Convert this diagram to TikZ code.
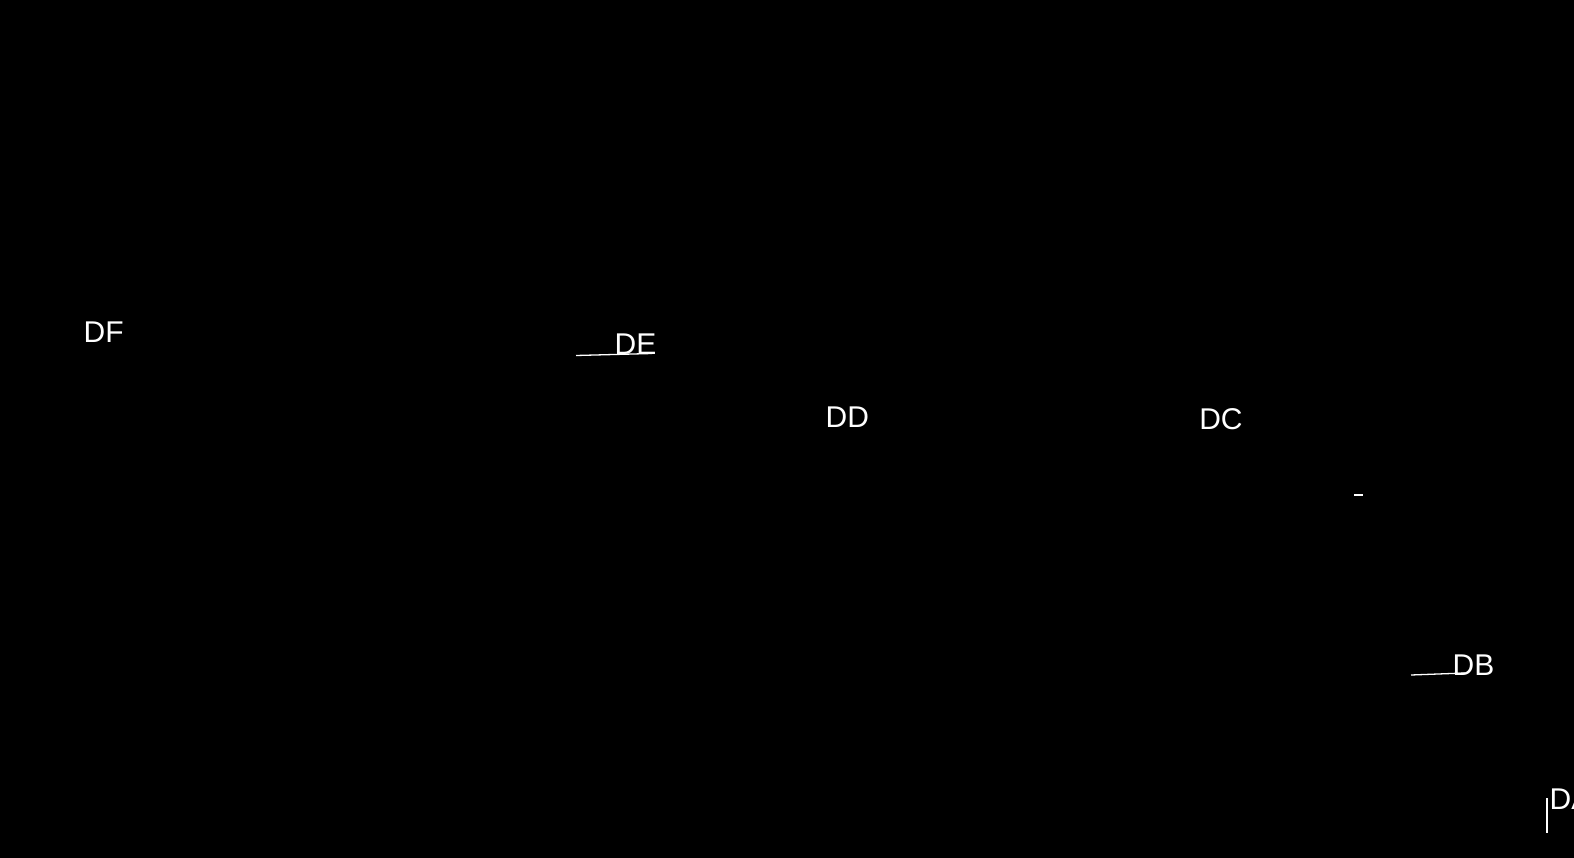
\documentclass[tikz,border=0pt]{standalone}
\usepackage{fontspec}
\setmainfont{Liberation Sans}
\begin{document}
\begin{tikzpicture}[x=1pt,y=-1pt,
  lbl/.style={anchor=base west,inner sep=0pt,outer sep=0pt,text=white,font=\fontsize{30}{36}\selectfont},
  thin line/.style={draw=white,line width=1.3pt}]
\useasboundingbox (0,0) rectangle (1574,858);
\fill[black] (0,0) rectangle (1574,858);
\clip (0,0) rectangle (1574,858);
\node[lbl] (DF) at (83.6,343) {DF};
\node[lbl] (DE) at (614.6,355) {DE};
\node[lbl] (DD) at (825.6,428) {DD};
\node[lbl] (DC) at (1199.3,429) {DC};
\node[lbl] (DB) at (1452.6,675) {DB};
\node[lbl] (DA) at (1549.6,809) {DA};
\coordinate (e1) at (576,355.5);
\coordinate (e2) at (652,353.5);
\draw[thin line] (e1) -- (e2);
\coordinate (b1) at (1411,675);
\coordinate (b2) at (1465,673);
\draw[thin line] (b1) -- (b2);
\coordinate (m1) at (1354,495);
\coordinate (m2) at (1363,495);
\draw[thin line] (m1) -- (m2);
\coordinate (a1) at (1547,798);
\coordinate (a2) at (1547,833);
\draw[thin line] (a1) -- (a2);
\end{tikzpicture}
\end{document}
